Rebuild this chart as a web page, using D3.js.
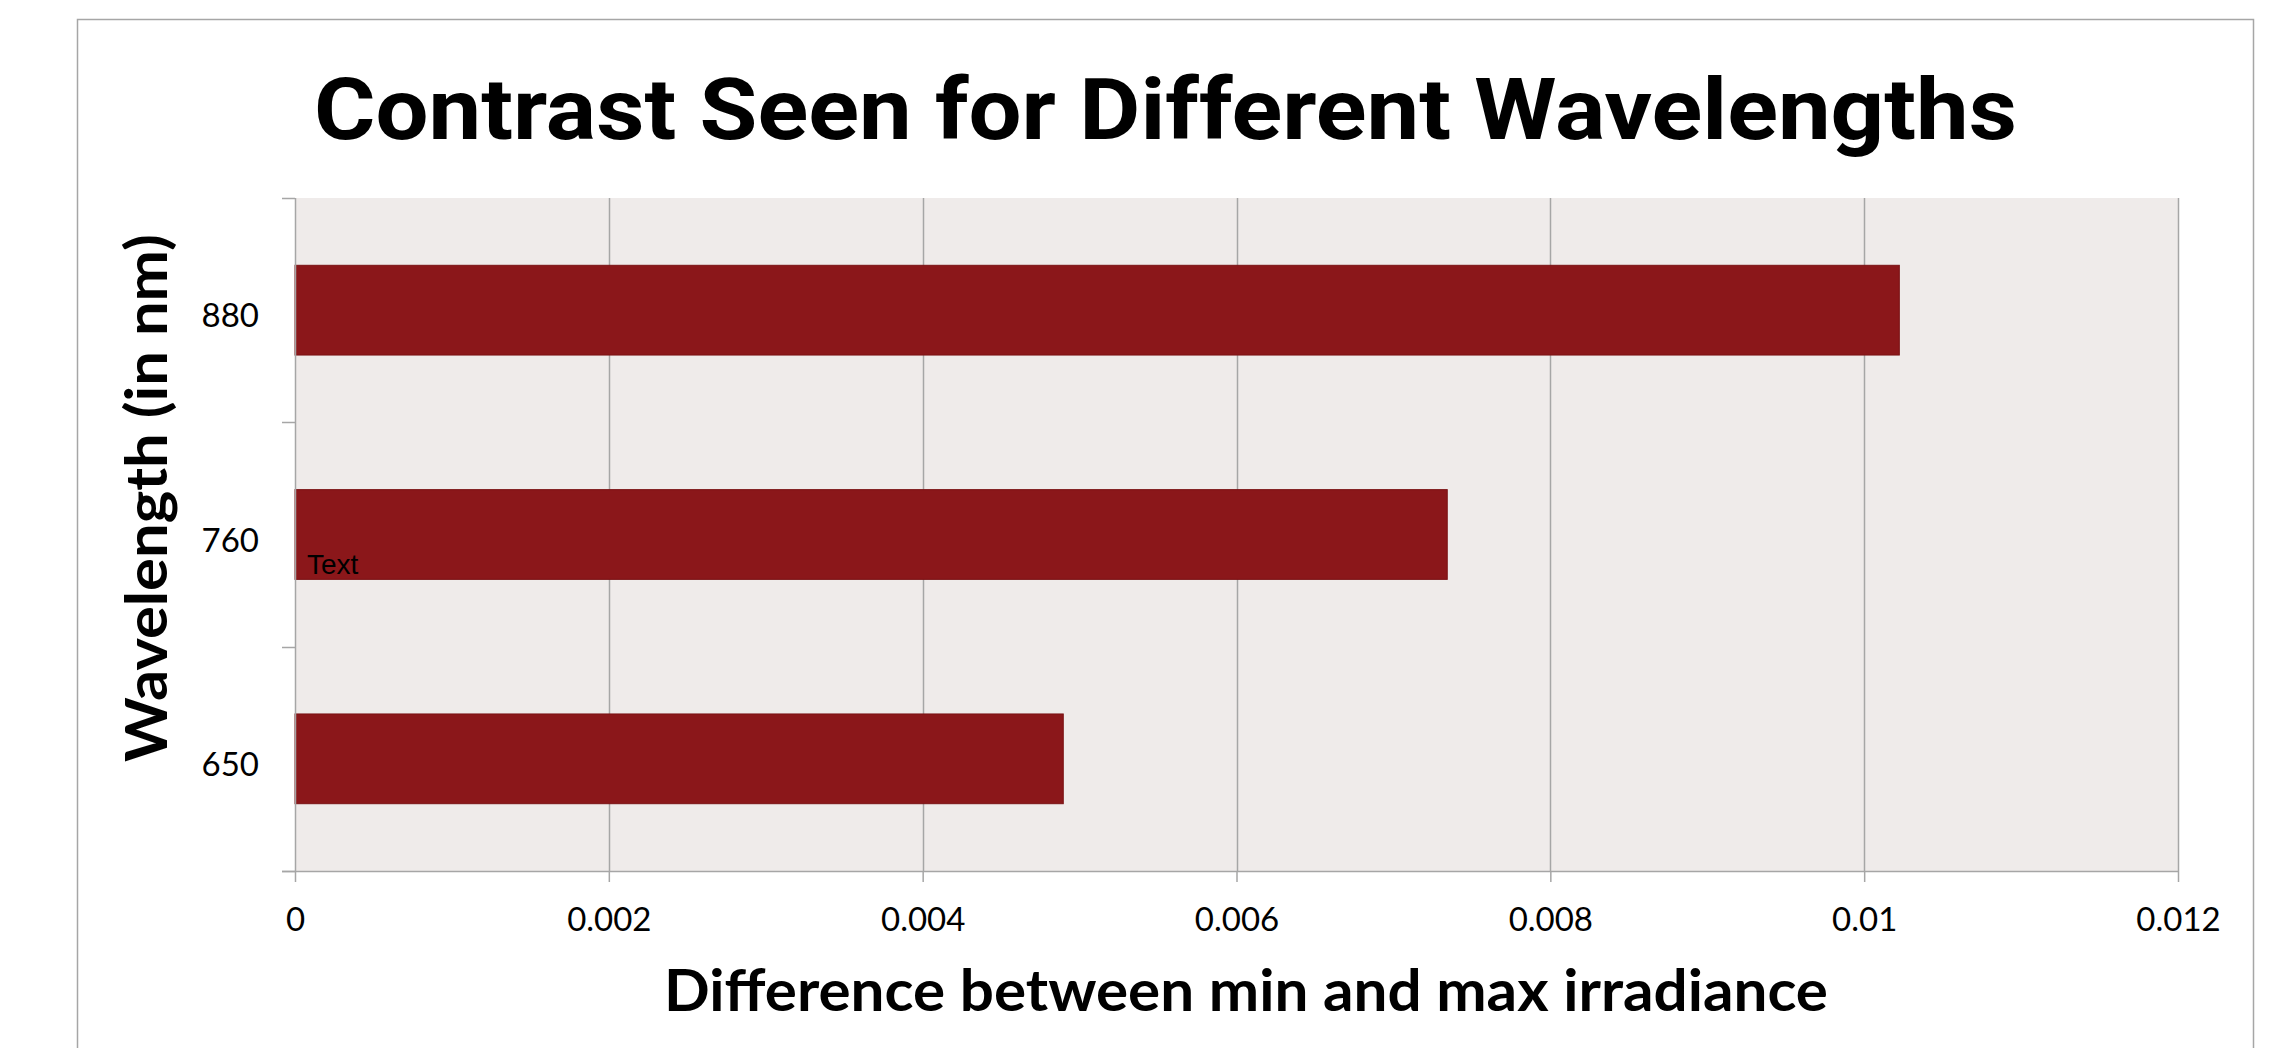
<!DOCTYPE html>
<html>
<head>
<meta charset="utf-8">
<script src="https://cdn.jsdelivr.net/npm/d3@7"></script>
<style>
  html, body { margin: 0; padding: 0; background: #ffffff; }
  svg { display: block; }
</style>
</head>
<body>
<script>
// ---- data ----
const categories = ["880", "760", "650"];
const values = [0.010224, 0.007343, 0.004896];
const xTicks = [0, 0.002, 0.004, 0.006, 0.008, 0.01, 0.012];
const xTickLabels = ["0", "0.002", "0.004", "0.006", "0.008", "0.01", "0.012"];
const titleText = "Contrast Seen for Different Wavelengths";
const xTitleText = "Difference between min and max irradiance";
const yTitleText = "Wavelength (in nm)";
const annotationText = "Text";

// ---- layout ----
const W = 2289, H = 1048;
const plot = { left: 295, right: 2178, top: 198, bottom: 871 };
const gridColor = "#a6a6a6";

const svg = d3.select("body").append("svg")
  .attr("width", W).attr("height", H);

// outer chart border
svg.append("rect")
  .attr("x", 77.5).attr("y", 19.5)
  .attr("width", 2253 - 77).attr("height", H + 20)
  .attr("fill", "#ffffff").attr("stroke", gridColor).attr("stroke-width", 1.5);

const x = d3.scaleLinear().domain([0, 0.012]).range([plot.left, plot.right]);
const y = d3.scaleBand().domain(categories).range([plot.top, plot.bottom])
  .paddingInner(0.6).paddingOuter(0.3);

// plot background
svg.append("rect")
  .attr("x", plot.left).attr("y", plot.top)
  .attr("width", plot.right - plot.left).attr("height", plot.bottom - plot.top)
  .attr("fill", "#efebea");

// vertical gridlines
svg.append("g").selectAll("line")
  .data(xTicks.filter(d => d > 0))
  .join("line")
  .attr("x1", d => Math.round(x(d)) + 0.5).attr("x2", d => Math.round(x(d)) + 0.5)
  .attr("y1", plot.top).attr("y2", plot.bottom)
  .attr("stroke", gridColor).attr("stroke-width", 1.5);

// bars
svg.append("g").selectAll("rect")
  .data(categories)
  .join("rect")
  .attr("x", x(0))
  .attr("y", d => y(d))
  .attr("width", (d, i) => x(values[i]) - x(0))
  .attr("height", y.bandwidth())
  .attr("fill", "#8b171a")
  .attr("stroke", "#7a1214").attr("stroke-width", 1);

// x axis
const xAxis = d3.axisBottom(x)
  .tickValues(xTicks)
  .tickFormat((d, i) => xTickLabels[i])
  .tickSize(11).tickPadding(26).tickSizeOuter(0);
const gx = svg.append("g")
  .attr("transform", `translate(0,${plot.bottom})`)
  .call(xAxis);
gx.select(".domain").remove();
gx.append("line")
  .attr("x1", plot.left - 13).attr("x2", plot.right)
  .attr("y1", 0.5).attr("y2", 0.5)
  .attr("stroke", gridColor).attr("stroke-width", 1.5);
gx.selectAll(".tick line").attr("stroke", gridColor).attr("stroke-width", 1.5);
gx.selectAll(".tick text")
  .attr("font-family", "Lato, 'Open Sans', sans-serif")
  .attr("font-size", 33).attr("fill", "#000");

// y axis (ticks at category boundaries)
const boundaries = [plot.top].concat(categories.map(c => y(c) + y.bandwidth() + y.step() * y.paddingInner() / 2));
boundaries[boundaries.length - 1] = plot.bottom;
const gy = svg.append("g");
gy.append("line")
  .attr("x1", plot.left + 0.5).attr("x2", plot.left + 0.5)
  .attr("y1", plot.top).attr("y2", plot.bottom)
  .attr("stroke", gridColor).attr("stroke-width", 1.5);
gy.selectAll("line.t").data(boundaries).join("line").attr("class", "t")
  .attr("x1", plot.left - 13).attr("x2", plot.left)
  .attr("y1", d => Math.round(d) + 0.5).attr("y2", d => Math.round(d) + 0.5)
  .attr("stroke", gridColor).attr("stroke-width", 1.5);
gy.selectAll("text").data(categories).join("text")
  .attr("x", 259)
  .attr("y", d => y(d) + y.bandwidth() / 2 + 17)
  .attr("text-anchor", "end")
  .attr("font-family", "Lato, 'Open Sans', sans-serif")
  .attr("font-size", 33).attr("fill", "#000")
  .text(d => d);

// title
svg.append("text")
  .attr("x", 314).attr("y", 139)
  .attr("font-family", "Roboto, sans-serif")
  .attr("font-weight", 700).attr("font-size", 86)
  .attr("textLength", 1703).attr("lengthAdjust", "spacingAndGlyphs")
  .attr("fill", "#000")
  .text(titleText);

// x title
svg.append("text")
  .attr("x", 664).attr("y", 1011)
  .attr("font-family", "Lato, 'Open Sans', sans-serif")
  .attr("font-weight", 700).attr("font-size", 57)
  .attr("textLength", 1164).attr("lengthAdjust", "spacingAndGlyphs")
  .attr("fill", "#000")
  .text(xTitleText);

// y title
svg.append("text")
  .attr("transform", "translate(167,762) rotate(-90)")
  .attr("font-family", "Lato, 'Open Sans', sans-serif")
  .attr("font-weight", 700).attr("font-size", 57)
  .attr("textLength", 528).attr("lengthAdjust", "spacingAndGlyphs")
  .attr("fill", "#000")
  .text(yTitleText);

// annotation
svg.append("text")
  .attr("x", 307).attr("y", 574)
  .attr("font-family", "'Liberation Sans', Arial, sans-serif")
  .attr("font-size", 28).attr("fill", "#000")
  .text(annotationText);
</script>
</body>
</html>
